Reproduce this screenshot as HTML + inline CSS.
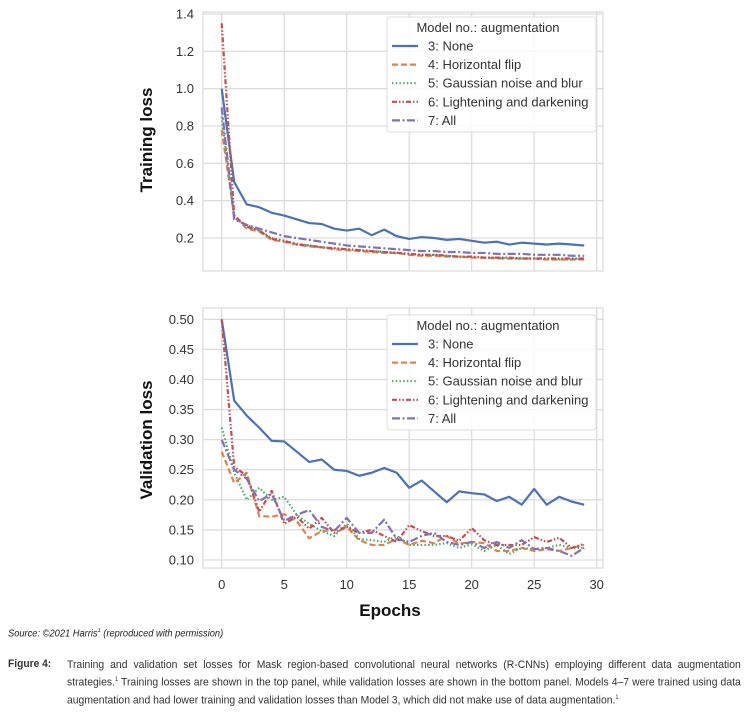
<!DOCTYPE html>
<html><head><meta charset="utf-8">
<style>
body{margin:0;background:#fff;width:752px;height:712px;overflow:hidden;position:relative;font-family:"Liberation Sans",sans-serif}
svg{position:absolute;left:0;top:0}
.src{position:absolute;left:8px;top:628px;font-family:"Liberation Sans Narrow","Liberation Sans",sans-serif;font-style:italic;font-size:10px;color:#222;transform:scaleX(0.93);transform-origin:0 0;white-space:nowrap}
.fig{position:absolute;left:8px;top:658px;font-family:"Liberation Sans Narrow","Liberation Sans",sans-serif;font-weight:bold;font-size:11px;color:#333;transform:scaleX(0.93);transform-origin:0 0}
.cap{position:absolute;left:67px;top:658px;width:713px;font-family:"Liberation Sans Narrow","Liberation Sans",sans-serif;font-size:11px;line-height:15px;color:#333;text-align:justify;transform:scaleX(0.945);transform-origin:0 0}
</style></head><body>
<svg id="chart" width="752" height="625"></svg>
<div class="src">Source: ©2021 Harris<sup style="font-size:6px">1</sup> (reproduced with permission)</div>
<div class="fig">Figure 4:</div>
<div class="cap">Training and validation set losses for Mask region-based convolutional neural networks (R-CNNs) employing different data augmentation strategies.<sup style="font-size:6px">1</sup> Training losses are shown in the top panel, while validation losses are shown in the bottom panel. Models 4–7 were trained using data augmentation and had lower training and validation losses than Model 3, which did not make use of data augmentation.<sup style="font-size:6px">1</sup></div>
<script>
const epochs=[...Array(30).keys()];
const seriesNames=["3: None","4: Horizontal flip","5: Gaussian noise and blur","6: Lightening and darkening","7: All"];
const trainM3=[1.0,0.5,0.38,0.365,0.335,0.32,0.30,0.28,0.275,0.25,0.24,0.25,0.215,0.245,0.21,0.195,0.205,0.20,0.19,0.195,0.185,0.175,0.18,0.165,0.175,0.17,0.165,0.17,0.165,0.16];
const trainM4=[0.78,0.32,0.25,0.235,0.19,0.18,0.165,0.155,0.15,0.14,0.135,0.13,0.125,0.12,0.12,0.11,0.105,0.105,0.10,0.10,0.095,0.095,0.09,0.09,0.09,0.09,0.085,0.085,0.085,0.085];
const trainM5=[0.85,0.31,0.27,0.24,0.2,0.185,0.17,0.16,0.15,0.145,0.14,0.135,0.13,0.125,0.12,0.115,0.11,0.11,0.105,0.10,0.10,0.095,0.095,0.09,0.09,0.09,0.09,0.085,0.085,0.09];
const trainM6=[1.35,0.32,0.26,0.24,0.195,0.185,0.165,0.16,0.15,0.145,0.14,0.135,0.13,0.125,0.12,0.115,0.11,0.11,0.105,0.10,0.10,0.095,0.095,0.095,0.09,0.09,0.09,0.09,0.09,0.09];
const trainM7=[0.9,0.30,0.27,0.25,0.23,0.21,0.20,0.19,0.18,0.17,0.16,0.155,0.15,0.145,0.14,0.135,0.13,0.13,0.125,0.125,0.12,0.12,0.115,0.115,0.115,0.11,0.11,0.11,0.105,0.105];
const valM3=[0.50,0.365,0.34,0.32,0.298,0.297,0.28,0.263,0.267,0.25,0.248,0.24,0.245,0.253,0.245,0.22,0.232,0.214,0.196,0.214,0.211,0.209,0.198,0.205,0.192,0.218,0.192,0.205,0.197,0.192];
const valM4=[0.28,0.228,0.245,0.173,0.172,0.176,0.165,0.136,0.148,0.15,0.155,0.133,0.125,0.125,0.135,0.125,0.132,0.128,0.14,0.127,0.13,0.128,0.115,0.115,0.12,0.115,0.118,0.115,0.12,0.125];
const valM5=[0.32,0.245,0.2,0.22,0.2,0.205,0.175,0.16,0.148,0.14,0.16,0.135,0.133,0.13,0.14,0.125,0.125,0.125,0.128,0.12,0.126,0.115,0.125,0.11,0.12,0.118,0.12,0.125,0.12,0.12];
const valM6=[0.50,0.255,0.24,0.18,0.215,0.16,0.172,0.152,0.17,0.145,0.155,0.145,0.15,0.14,0.13,0.158,0.148,0.14,0.14,0.132,0.153,0.133,0.125,0.125,0.125,0.138,0.13,0.137,0.12,0.127];
const valM7=[0.30,0.25,0.235,0.198,0.21,0.165,0.175,0.183,0.155,0.148,0.17,0.145,0.145,0.167,0.135,0.13,0.14,0.145,0.13,0.125,0.13,0.12,0.13,0.12,0.133,0.118,0.12,0.115,0.107,0.12];
const xTicks=[0,5,10,15,20,25,30];
const trainTicks=[0.2,0.4,0.6,0.8,1.0,1.2,1.4];
const valTicks=[0.10,0.15,0.20,0.25,0.30,0.35,0.40,0.45,0.50];

const colors=["#4c72b0","#dd8452","#55a868","#c44e52","#8172b3"];
const dashes=["","6,3","1.5,2.2","5,2,1.5,2,1.5,2","8,2.5,2,2.5"];
const svg=document.getElementById('chart');
const NS='http://www.w3.org/2000/svg';
function mk(t,a,p){const e=document.createElementNS(NS,t);for(const k in a)e.setAttribute(k,a[k]);(p||svg).appendChild(e);return e;}
const xs=v=>221.7+v*12.5;

function panel(o){
  const g=mk('g',{});
  
  
  const ys=v=>o.y0+(v-o.v0)*(o.y1-o.y0)/(o.v1-o.v0);
  mk('rect',{x:203,y:o.top,width:400,height:o.bot-o.top,fill:'#fff',stroke:'#ddd','stroke-width':1.3},g);
  xTicks.forEach(t=>{const l=mk('line',{x1:xs(t),x2:xs(t),y1:o.top,y2:o.bot,stroke:'#ddd','stroke-width':1.3},g);
    
    if(o.xlabels){const tx=mk('text',{x:xs(t),y:589,'text-anchor':'middle','font-size':13,fill:'#333'},g);tx.textContent=t;
      }});
  o.ticks.forEach(t=>{const l=mk('line',{x1:203,x2:603,y1:ys(t),y2:ys(t),stroke:'#ddd','stroke-width':1.3},g);
    
    const tx=mk('text',{x:194,y:ys(t)+4.5,'text-anchor':'end','font-size':13,fill:'#333'},g);tx.textContent=t.toFixed(o.dec);
    });
  o.data.forEach((arr,i)=>{const p=mk('polyline',{points:arr.map((v,j)=>xs(epochs[j])+','+ys(v)).join(' '),fill:'none',stroke:colors[i],'stroke-width':2.2,'stroke-dasharray':dashes[i],'stroke-linejoin':'round'},g);
    });
  const ti=mk('text',{x:0,y:0,transform:`translate(${o.tx},${o.ty}) rotate(-90)`,'text-anchor':'middle','font-size':17,'font-weight':'bold',fill:'#111'},g);
  ti.textContent=o.title;
  const lg=mk('g',{},g);
  mk('rect',{x:387,y:o.ly,width:209,height:115,rx:3,fill:'#fff','fill-opacity':0.85,stroke:'#ddd'},lg);
  const lt=mk('text',{x:488,y:o.ly+15,'text-anchor':'middle','font-size':13,fill:'#333'},lg);lt.textContent='Model no.: augmentation';
  seriesNames.forEach((n,i)=>{const yy=o.ly+29+i*18.6;
    const e=mk('g',{},lg);
    mk('line',{x1:392,x2:418,y1:yy,y2:yy,stroke:colors[i],'stroke-width':2.2,'stroke-dasharray':dashes[i]},e);
    const t=mk('text',{x:428,y:yy+4.5,'font-size':13,fill:'#333'},e);t.textContent=n;});
}
panel({name:'training-panel',top:12,bot:271,v0:0.2,v1:1.4,y0:238,y1:14,ticks:trainTicks,dec:1,data:[trainM3,trainM4,trainM5,trainM6,trainM7],title:'Training loss',tx:152,ty:140,ly:17,xlabels:false});
panel({name:'validation-panel',top:308,bot:568,v0:0.10,v1:0.50,y0:560,y1:319.3,ticks:valTicks,dec:2,data:[valM3,valM4,valM5,valM6,valM7],title:'Validation loss',tx:152,ty:440,ly:315,xlabels:true});
const xt=mk('text',{x:390,y:616,'text-anchor':'middle','font-size':17,'font-weight':'bold',fill:'#111'});
xt.textContent='Epochs';


</script>
</body></html>
